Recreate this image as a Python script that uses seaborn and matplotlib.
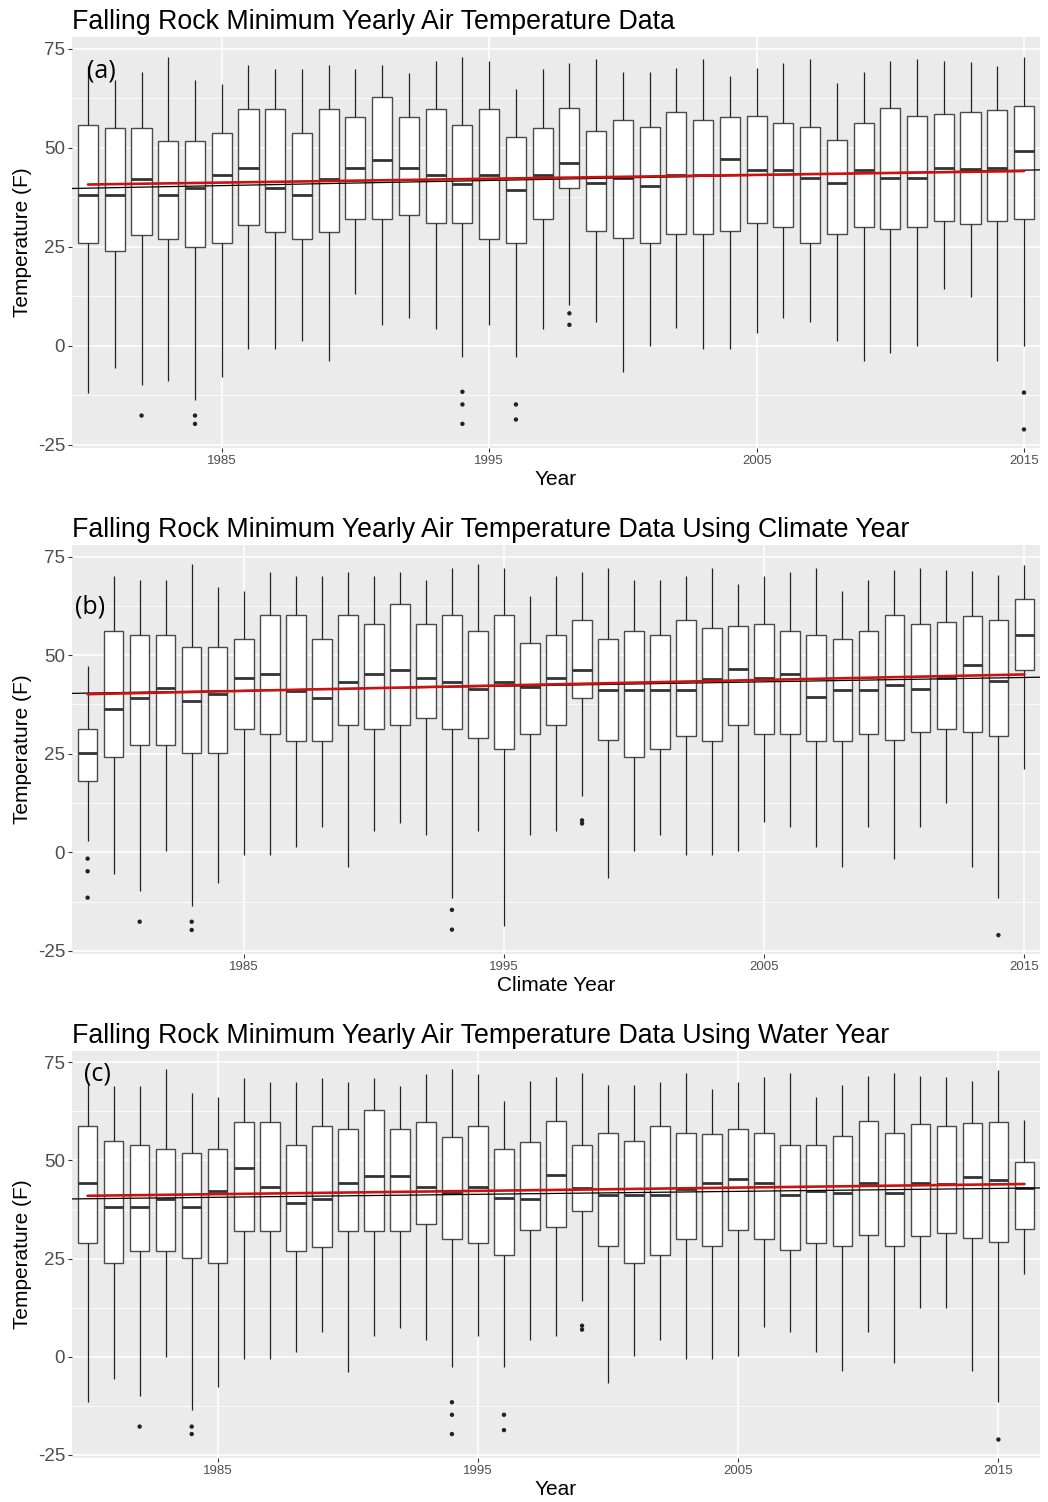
import numpy as np
import pandas as pd
import matplotlib
matplotlib.use("Agg")
import matplotlib.pyplot as plt
import seaborn as sns

# ---- panel (a): calendar year ----
years_a = list(range(1980, 2016))
lo_a = [-11.8, -5.7, -9.9, -8.9, -13.7, -7.8, -0.7, -0.7, 1.1, -3.8, 13.1, 5.3, 7.0, 4.3, -2.8, 5.3, -2.8, 4.3,
        10.2, 6.1, -6.7, 0.0, 4.4, -0.7, -0.7, 3.3, 7.1, 6.1, 1.2, -3.8, -1.7, 0.0, 14.3, 12.4, -3.8, 0.0]
q1_a = [25.9, 23.9, 28.0, 27.0, 24.9, 25.9, 30.4, 28.8, 27.0, 28.8, 31.9, 31.9, 33.0, 30.9, 30.9, 27.0, 25.9, 31.9,
        39.9, 29.0, 27.1, 26.0, 28.2, 28.2, 29.0, 31.1, 30.0, 26.0, 28.2, 30.0, 29.5, 30.0, 31.4, 30.8, 31.4, 32.1]
med_a = [38.1, 38.0, 42.0, 38.0, 39.9, 43.0, 44.9, 39.9, 38.0, 42.0, 44.9, 46.9, 44.9, 43.0, 40.9, 43.0, 39.4, 43.0,
         46.2, 41.2, 42.3, 40.2, 43.1, 43.0, 47.2, 44.3, 44.3, 42.3, 41.2, 44.3, 42.3, 42.3, 44.8, 44.6, 44.8, 49.1]
q3_a = [55.8, 55.0, 55.0, 51.7, 51.7, 53.7, 59.8, 59.8, 53.7, 59.8, 57.7, 62.7, 57.7, 59.8, 55.8, 59.8, 52.7, 55.0,
        60.1, 54.1, 57.0, 55.2, 59.1, 57.0, 57.8, 58.0, 56.2, 55.2, 52.0, 56.2, 60.1, 58.0, 58.5, 59.1, 59.4, 60.6]
hi_a = [70.7, 67.0, 69.0, 72.8, 67.0, 66.0, 70.9, 69.8, 69.8, 70.9, 69.8, 70.9, 68.8, 71.9, 72.9, 71.9, 64.9, 69.8,
        71.3, 72.3, 69.2, 69.2, 70.2, 72.3, 68.1, 70.2, 71.3, 72.3, 66.2, 69.2, 71.8, 72.3, 71.8, 71.5, 70.5, 73.0]
out_year_a = [1982, 1984, 1984, 1994, 1994, 1994, 1996, 1996, 1998, 1998, 2015, 2015]
out_temp_a = [-17.6, -17.6, -19.7, -11.6, -14.8, -19.7, -14.8, -18.6, 8.2, 5.3, -11.8, -21.1]
trend_a = [40.7, 44.1]   # red fit at first / last box
ref_a = [39.7, 44.4]     # black line at left / right panel edge

# ---- panel (b): climate year ----
years_b = list(range(1979, 2016))
lo_b = [2.8, -5.6, -9.8, 0.3, -13.6, -7.7, -0.6, -0.6, 1.3, 6.3, -3.7, 5.4, 7.4, 4.5, -11.5, 5.4, -18.6, 4.3, 5.4,
        14.4, -6.5, 0.3, 4.3, -0.7, -0.7, 0.3, 7.8, 6.3, 1.3, -3.7, 6.3, -1.7, 6.3, 12.5, -3.7, -11.5, 21.1]
q1_b = [18.0, 24.1, 27.1, 27.1, 25.2, 25.2, 31.2, 30.1, 28.2, 28.2, 32.2, 31.2, 32.2, 34.0, 31.2, 29.1, 26.2, 30.1, 32.2,
        39.2, 28.5, 24.1, 26.2, 29.5, 28.2, 32.2, 30.1, 30.1, 28.2, 28.2, 30.1, 28.5, 30.4, 31.2, 30.6, 29.5, 46.3]
med_b = [25.2, 36.3, 39.2, 41.6, 38.3, 40.2, 44.3, 45.2, 41.0, 39.2, 43.3, 45.2, 46.2, 44.3, 43.3, 41.3, 43.3, 42.0, 44.3,
         46.1, 41.2, 41.2, 41.2, 41.2, 43.9, 46.6, 44.3, 45.2, 39.3, 41.2, 41.2, 42.3, 41.4, 44.1, 47.5, 43.4, 55.0]
q3_b = [31.2, 56.1, 55.0, 55.0, 52.0, 52.0, 54.0, 60.1, 60.1, 54.0, 60.1, 58.0, 63.0, 58.0, 60.1, 56.1, 60.1, 53.0, 55.0,
        59.0, 54.0, 56.1, 55.0, 59.0, 56.9, 57.5, 58.0, 56.1, 55.0, 54.0, 56.1, 60.1, 58.0, 58.5, 59.8, 59.0, 64.2]
hi_b = [47.2, 70.1, 69.1, 69.1, 73.1, 67.2, 66.2, 71.1, 70.1, 70.1, 71.1, 70.1, 71.1, 69.1, 72.1, 73.1, 72.1, 65.1, 70.1,
        71.1, 72.1, 69.1, 69.1, 70.1, 72.1, 68.0, 70.1, 71.1, 72.1, 66.2, 69.1, 71.6, 72.1, 71.6, 71.4, 70.4, 72.9]
out_year_b = [1979, 1979, 1979, 1981, 1983, 1983, 1993, 1993, 1998, 1998, 2014]
out_temp_b = [-1.6, -4.8, -11.5, -17.6, -17.6, -19.7, -14.6, -19.6, 8.1, 7.3, -21.0]
trend_b = [40.1, 45.1]
ref_b = [40.3, 44.4]

# ---- panel (c): water year ----
years_c = list(range(1980, 2017))
lo_c = [-11.6, -5.7, -9.9, 0.0, -13.7, -7.8, -0.6, -0.6, 1.1, 6.2, -3.8, 5.3, 7.2, 4.2, -2.7, 5.3, -2.7, 4.2,
        5.3, 14.2, -6.7, 0.1, 4.3, -0.6, -0.6, 0.1, 7.6, 6.2, 1.3, -3.7, 6.2, -1.7, 12.4, 12.4, -3.7, -11.6, 21.0]
q1_c = [28.9, 23.9, 27.0, 27.0, 25.2, 23.9, 32.0, 32.0, 27.0, 28.0, 32.0, 32.1, 32.1, 33.8, 30.0, 28.9, 26.0, 32.3,
        33.1, 37.1, 28.1, 24.0, 26.0, 30.1, 28.1, 32.2, 30.1, 27.1, 29.0, 28.1, 31.1, 28.1, 30.8, 31.4, 30.3, 29.2, 32.6]
med_c = [44.2, 38.2, 38.2, 40.1, 38.2, 42.1, 48.2, 43.2, 39.2, 40.1, 44.2, 46.1, 46.1, 43.2, 41.7, 43.2, 40.5, 40.1,
         46.2, 43.1, 41.2, 41.2, 41.2, 42.8, 44.3, 45.2, 44.3, 41.2, 42.3, 41.8, 44.3, 41.8, 44.3, 44.1, 45.8, 45.0, 43.0]
q3_c = [58.9, 54.9, 53.9, 52.9, 51.9, 52.9, 59.9, 59.9, 53.9, 58.9, 58.0, 62.9, 58.0, 59.9, 56.1, 58.9, 52.9, 54.6,
        60.1, 54.0, 57.0, 55.0, 58.7, 57.0, 56.7, 58.1, 57.0, 54.0, 54.0, 56.2, 60.1, 57.0, 59.2, 58.7, 59.6, 59.7, 49.6]
hi_c = [70.1, 69.0, 69.0, 73.2, 67.1, 66.1, 71.1, 70.1, 70.1, 71.1, 70.1, 71.1, 69.0, 72.1, 73.2, 72.1, 65.2, 70.2,
        71.2, 72.2, 69.1, 69.1, 70.1, 72.2, 68.1, 70.1, 71.2, 72.2, 66.2, 69.1, 71.6, 72.2, 71.6, 71.2, 70.3, 73.0, 60.4]
out_year_c = [1982, 1984, 1984, 1994, 1994, 1994, 1996, 1996, 1999, 1999, 2015]
out_temp_c = [-17.8, -17.8, -19.7, -11.6, -14.8, -19.7, -14.8, -18.7, 7.9, 6.9, -21.1]
trend_c = [41.0, 44.0]
ref_c = [40.2, 43.0]

titles = ["Falling Rock Minimum Yearly Air Temperature Data",
          "Falling Rock Minimum Yearly Air Temperature Data Using Climate Year",
          "Falling Rock Minimum Yearly Air Temperature Data Using Water Year"]
xlabels = ["Year", "Climate Year", "Year"]
tags = ["(a)", "(b)", "(c)"]
x_ticks = [1985, 1995, 2005, 2015]
y_ticks = [-25, 0, 25, 50, 75]


def box_frame(years, lo, q1, med, q3, hi):
    # five values per year give exactly these quartiles / whisker ends
    vals = np.column_stack([lo, q1, med, q3, hi]).ravel()
    return pd.DataFrame({"year": np.repeat(years, 5), "temp": vals})


panels = [
    (years_a, box_frame(years_a, lo_a, q1_a, med_a, q3_a, hi_a), out_year_a, out_temp_a, trend_a, ref_a),
    (years_b, box_frame(years_b, lo_b, q1_b, med_b, q3_b, hi_b), out_year_b, out_temp_b, trend_b, ref_b),
    (years_c, box_frame(years_c, lo_c, q1_c, med_c, q3_c, hi_c), out_year_c, out_temp_c, trend_c, ref_c),
]

sns.set_theme(style="darkgrid", rc={"axes.facecolor": "#EBEBEB", "grid.color": "white"})
plt.rcParams["font.family"] = ["Liberation Sans", "DejaVu Sans"]
plt.rcParams["axes.unicode_minus"] = False

fig = plt.figure(figsize=(10.48, 15.02), dpi=100)
rects = [[0.0687, 0.7017, 0.9237, 0.2736],
         [0.0687, 0.3648, 0.9237, 0.2723],
         [0.0687, 0.0293, 0.9237, 0.2710]]
tag_pos = [(0.0155, 0.917), (0.003, 0.848), (0.012, 0.943)]

for i, (years, df, oy, ot, trend, ref) in enumerate(panels):
    ax = fig.add_axes(rects[i])
    sns.boxplot(data=df, x="year", y="temp", native_scale=True, width=0.75,
                whis=(0, 100), showfliers=False, showcaps=False,
                color="white", saturation=1, linecolor="#4a4a4a", linewidth=1.0,
                medianprops={"linewidth": 2.0, "color": "#333333"},
                whiskerprops={"linewidth": 0.9, "color": "#222222"}, ax=ax)
    sns.scatterplot(x=oy, y=ot, color="#222222", s=10, edgecolor="none", ax=ax, zorder=3)

    x0, x1 = years[0] - 0.6, years[-1] + 0.6
    sns.lineplot(x=[x0, x1], y=ref, color="black", linewidth=0.9, ax=ax, zorder=4)
    sns.lineplot(x=[years[0], years[-1]], y=trend, color="#CC1111", linewidth=1.9, ax=ax, zorder=5)

    ax.set_xlim(x0, x1)
    ax.set_ylim(-25.8, 77.9)
    ax.set_xticks(x_ticks)
    ax.set_xticklabels([str(t) for t in x_ticks])
    ax.set_yticks(y_ticks)
    ax.set_yticks([-12.5, 12.5, 37.5, 62.5], minor=True)
    ax.grid(which="major", color="white", linewidth=1.1)
    ax.grid(which="minor", axis="y", color="white", linewidth=0.55)
    ax.set_axisbelow(True)
    for s in ax.spines.values():
        s.set_visible(False)
    ax.tick_params(axis="both", which="major", length=3, width=0.8, color="#333333",
                   labelcolor="#4D4D4D", pad=2, bottom=True, left=True)
    ax.tick_params(axis="y", which="major", labelsize=13.5)
    ax.tick_params(axis="x", which="major", labelsize=9.5)
    ax.tick_params(axis="both", which="minor", length=0)

    ax.set_title(titles[i], loc="left", fontsize=19.3, pad=6, color="black")
    ax.set_xlabel(xlabels[i], fontsize=15, labelpad=2, color="black")
    ax.set_ylabel("Temperature (F)", fontsize=15, labelpad=4, color="black")
    ax.text(tag_pos[i][0], tag_pos[i][1], tags[i], transform=ax.transAxes, fontsize=18,
            family=["Open Sans", "DejaVu Sans"], ha="left", va="center", color="black")

fig.savefig("out.png", dpi=100, facecolor="white")
